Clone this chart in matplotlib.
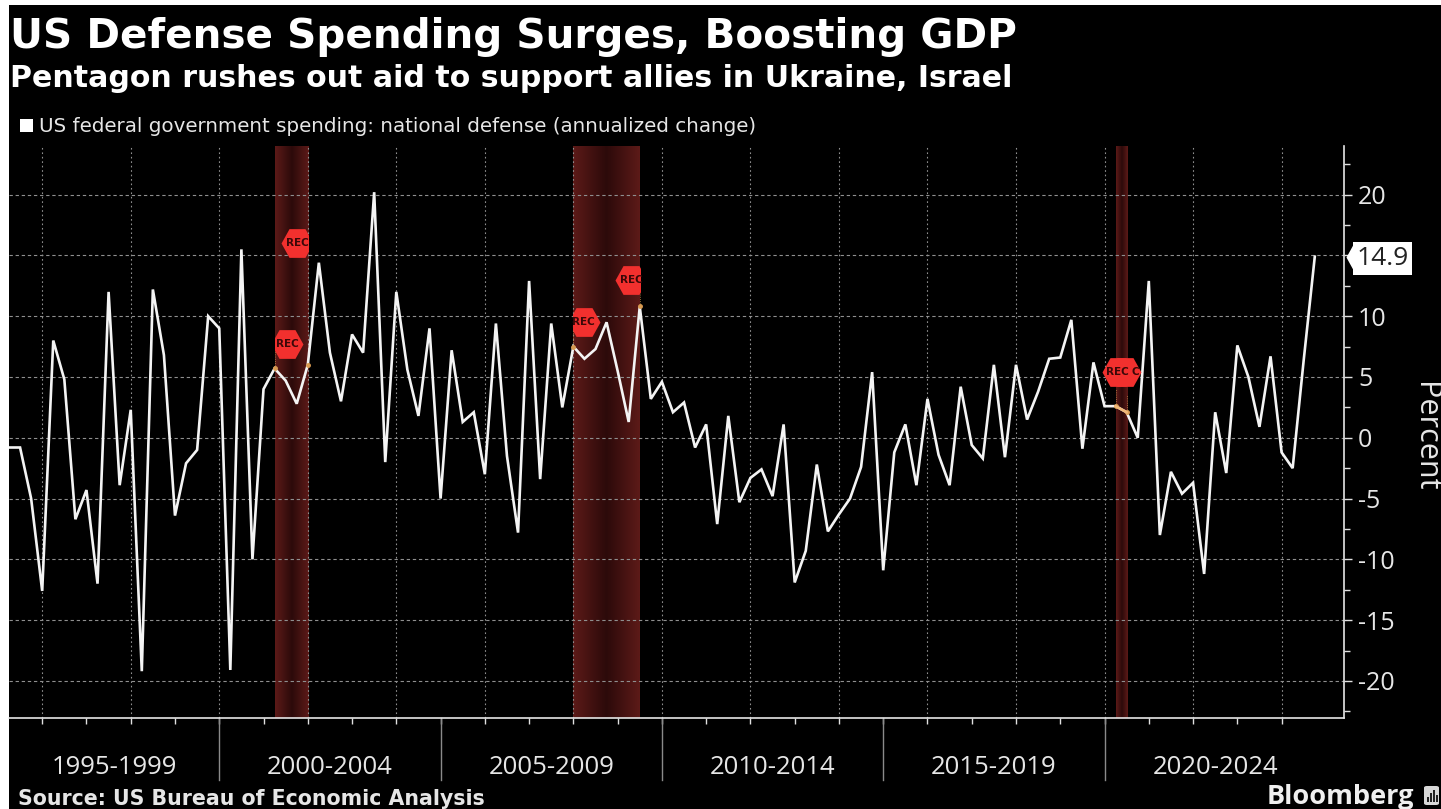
import numpy as np
import matplotlib
matplotlib.use("Agg")
import matplotlib.pyplot as plt
from matplotlib.colors import LinearSegmentedColormap
from matplotlib.patches import Rectangle, FancyBboxPatch

W, H = 1441, 809

# Annualized quarterly change, first point is Q2 1995
spending = [
    -0.8, -0.8, -5.0,
    -12.6, 8.0, 4.8, -6.7,
    -4.3, -12.0, 12.0, -3.9,
    2.3, -19.2, 12.2, 6.8,
    -6.4, -2.1, -1.0, 10.0,
    9.0, -19.1, 15.5, -10.0,
    4.0, 5.7, 4.7, 2.8,
    6.0, 14.4, 7.0, 3.0,
    8.5, 7.0, 20.2, -2.0,
    12.0, 5.6, 1.8, 9.0,
    -5.0, 7.2, 1.3, 2.1,
    -3.0, 9.4, -1.5, -7.8,
    12.9, -3.4, 9.4, 2.5,
    7.5, 6.5, 7.3, 9.5,
    5.5, 1.3, 10.8, 3.2,
    4.6, 2.1, 2.9, -0.8,
    1.1, -7.1, 1.8, -5.3,
    -3.3, -2.6, -4.8, 1.1,
    -11.9, -9.3, -2.2, -7.7,
    -6.3, -5.0, -2.4, 5.4,
    -10.9, -1.2, 1.1, -3.9,
    3.2, -1.4, -3.9, 4.2,
    -0.6, -1.7, 6.0, -1.6,
    6.0, 1.5, 3.8, 6.5,
    6.6, 9.7, -0.9, 6.2,
    2.6, 2.6, 2.1, 0.0,
    12.9, -8.0, -2.8, -4.6,
    -3.7, -11.2, 2.1, -2.9,
    7.6, 5.0, 0.9, 6.7,
    -1.2, -2.5, 6.4, 14.9,
]
years = 1995.25 + np.arange(len(spending)) / 4

recessions = [(2001.25, 2002.0), (2008.0, 2009.5), (2020.25, 2020.5)]
# flag position (year, percent) and the recession it belongs to
rec_flags = [(2001.53, 7.7, 0), (2001.76, 16.0, 0), (2008.23, 9.5, 1), (2009.31, 13.0, 1)]
period_labels = ["1995-1999", "2000-2004", "2005-2009", "2010-2014", "2015-2019", "2020-2024"]
period_edges = [1995.25, 2000, 2005, 2010, 2015, 2020, 2025]
y_ticks = [-20, -15, -10, -5, 0, 5, 10, 15, 20]
# the latest-value tag sits where the 15 label would be
y_tick_labels = ["-20", "-15", "-10", "-5", "0", "5", "10", "", "20"]

BODY = "Open Sans"
X_MAX = 2025.41
Y_MIN, Y_MAX = -23.05, 24.0

fig = plt.figure(figsize=(W / 100, H / 100), dpi=100, facecolor="white")
fig.add_artist(Rectangle((9 / W, 0), 1 - 9 / W, 1 - 5 / H, transform=fig.transFigure,
                         facecolor="black", edgecolor="none", zorder=-5))

ax = fig.add_axes([9 / W, 1 - 718 / H, (1344 - 9) / W, (718 - 146) / H], facecolor="black")
ax.patch.set_alpha(0)

# recession bands are lighter at the edges than in the middle
band_cmap = LinearSegmentedColormap.from_list("band", ["#5c1a18", "#2c0a0a", "#5c1a18"])
gradient = np.linspace(0, 1, 64).reshape(1, -1)
band_rects = []
for start, end in recessions:
    ax.imshow(gradient, extent=(start, end, Y_MIN, Y_MAX), aspect="auto", cmap=band_cmap,
              interpolation="bilinear", zorder=1)
    band_rects.append(Rectangle((start, Y_MIN), end - start, Y_MAX - Y_MIN, transform=ax.transData))
ax.set_xlim(1995.25, X_MAX)
ax.set_ylim(Y_MIN, Y_MAX)

ax.set_axisbelow("line")
ax.grid(True, axis="x", which="major", color="#8f8f8f", lw=0.8, ls=(0, (1.5, 2.5)))
ax.grid(True, axis="y", which="major", color="#8f8f8f", lw=0.8, ls=(0, (3, 2.5)))
ax.set_xticks(np.arange(1996, 2025, 2))
ax.set_xticks(np.arange(1997, 2025, 2), minor=True)
ax.set_yticks(y_ticks)
ax.set_yticks(np.arange(-22.5, 24, 5), minor=True)
ax.set_yticklabels(y_tick_labels)
ax.set_xticklabels([])

ax.yaxis.tick_right()
ax.tick_params(axis="y", which="major", length=6, width=1, color="#e0e0e0", labelcolor="#e6e6e6",
               labelsize=18, pad=4)
ax.tick_params(axis="y", which="minor", length=4, width=1, color="#e0e0e0")
ax.tick_params(axis="x", which="both", length=4, width=1, color="#e0e0e0")
for label in ax.get_yticklabels():
    label.set_fontfamily(BODY)

for side in ["left", "top"]:
    ax.spines[side].set_visible(False)
for side in ["right", "bottom"]:
    ax.spines[side].set_color("#e6e6e6")
    ax.spines[side].set_linewidth(1.2)

ax.plot(years, spending, color="#f4f4f4", lw=1.9, zorder=4, solid_joinstyle="miter")

# orange ends of each recession on the line
values = np.array(spending)
for start, end in recessions:
    pts = [i for i, y in enumerate(years) if y in (start, end)]
    ax.plot(years[pts], values[pts], ls="none", marker="o", ms=2.5, color="#d89a50", zorder=5)
    ax.vlines(years[pts], values[pts], values[pts] + 1.4, color="#b98a4a", lw=0.6, ls=":", zorder=3)
last_band = [i for i, y in enumerate(years) if 2020.25 <= y <= 2020.5]
ax.plot(years[last_band], values[last_band], color="#f0b878", lw=1.9, zorder=5)

# hexagonal recession flags
flag_shape = [(-1, 0), (-0.5, 0.9), (0.5, 0.9), (1, 0), (0.5, -0.9), (-0.5, -0.9), (-1, 0)]
flag_text = dict(color="#3a0808", fontsize=7.5, fontweight="bold", ha="center", va="center",
                 family="DejaVu Sans")
for x, y, band in rec_flags:
    clip = band_rects[band]
    marker, = ax.plot([x], [y], marker=flag_shape, ms=23, color="#f2302e", mec="none", zorder=6)
    marker.set_clip_path(clip)
    label = ax.text(x, y, "REC", zorder=7, **flag_text)
    label.set_clip_path(clip)

# the two flags of the short 2020 recession overlap each other
ax.plot([2020.47], [5.4], marker=flag_shape, ms=23, color="#f2302e", mec="none", zorder=6)
ax.text(2020.69, 5.4, "C", zorder=9, **flag_text)
ax.plot([2020.3], [5.4], marker=flag_shape, ms=23, color="#f2302e", mec="none", zorder=6)
ax.text(2020.3, 5.4, "REC", zorder=9, **flag_text)

# value tag for the latest quarter
tag_point = [(-8, 0), (0, 14.5), (0, -14.5), (-8, 0)]
ax.plot([X_MAX + 10 / 44.27], [spending[-1]], marker=tag_point, ms=20.9, color="white", mec="none",
        clip_on=False, zorder=6)
ax.annotate(f"{spending[-1]}", xy=(1, spending[-1]), xycoords=ax.get_yaxis_transform(),
            xytext=(1382.5 - 1344, 1), textcoords="offset pixels", ha="center", va="center_baseline",
            fontsize=19, family=BODY, color="#222222", annotation_clip=False, zorder=7,
            bbox=dict(boxstyle="square,pad=0.14", fc="white", ec="none"))

# period separators and labels below the axis
sep_trans = ax.get_xaxis_transform()
for edge in period_edges[1:-1]:
    ax.plot([edge, edge], [0, -62 / 572], transform=sep_trans, color="#8a8a8a", lw=1, clip_on=False)
for i, name in enumerate(period_labels):
    mid = (period_edges[i] + period_edges[i + 1]) / 2
    ax.text(mid, -49 / 572, name, transform=sep_trans, ha="center", va="center", color="#e6e6e6",
            fontsize=18.5, family=BODY)

fig.text(10 / W, 1 - 48 / H, "US Defense Spending Surges, Boosting GDP", color="white", fontsize=29.2,
         fontweight="bold", family="DejaVu Sans", va="baseline")
fig.text(10 / W, 1 - 87 / H, "Pentagon rushes out aid to support allies in Ukraine, Israel", color="white",
         fontsize=21.6, fontweight="bold", family="DejaVu Sans", va="baseline")
fig.add_artist(Rectangle((20 / W, 1 - 132 / H), 13 / W, 13 / H, transform=fig.transFigure,
                         facecolor="white", edgecolor="none"))
fig.text(39 / W, 1 - 132 / H, "US federal government spending: national defense (annualized change)",
         color="#e6e6e6", fontsize=14.3, family="DejaVu Sans", va="baseline")
fig.text(1417 / W, 1 - 437 / H, "Percent", color="#e6e6e6", fontsize=22, rotation=270, family=BODY,
         ha="center", va="baseline", rotation_mode="anchor")
fig.text(18 / W, 1 - 805 / H, "Source: US Bureau of Economic Analysis", color="#e6e6e6", fontsize=14.8,
         fontweight="bold", family="DejaVu Sans", va="baseline")
fig.text(1267 / W, 1 - 804 / H, "Bloomberg", color="#f0f0f0", fontsize=19.5, fontweight="bold",
         family=BODY, va="baseline")

# small logo block in the corner
fig.add_artist(FancyBboxPatch((1424 / W, 1 - 805 / H), 15 / W, 19 / H, boxstyle="round,pad=0,rounding_size=0.002",
                              transform=fig.transFigure, facecolor="#d8d8d8", edgecolor="none"))
for bx, bh in zip([1427, 1430, 1433, 1436], [5, 9, 12, 7]):
    fig.add_artist(Rectangle((bx / W, 1 - 802 / H), 1.6 / W, bh / H, transform=fig.transFigure,
                             facecolor="#222222", edgecolor="none"))

fig.savefig("out.png", dpi=100, facecolor=fig.get_facecolor())
